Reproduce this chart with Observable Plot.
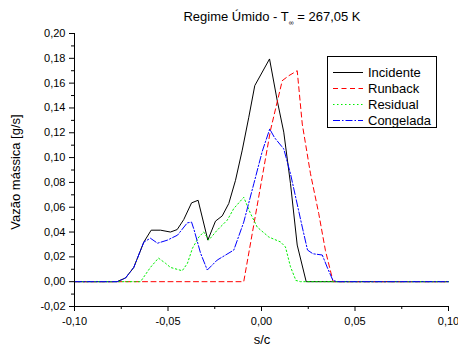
<!DOCTYPE html>
<html>
<head>
<meta charset="utf-8">
<script src="https://cdn.jsdelivr.net/npm/d3@7"></script>
<script src="https://cdn.jsdelivr.net/npm/@observablehq/plot@0.6"></script>
<style>
  html, body { margin: 0; padding: 0; background: #fff; }
  #chart { width: 458px; height: 349px; }
</style>
</head>
<body>
<div id="chart"></div>
<script>
// ---- data ----
const seriesNames = ["Incidente", "Runback", "Residual", "Congelada"];
const seriesColors = ["#000000", "#ff0000", "#00ee00", "#0000ff"];
const seriesDashes = [null, "5,3.5", "1.5,2.5", "7,2,1.5,2"];

const incidenteX = [-0.100, -0.0772, -0.0727, -0.0683, -0.0629, -0.0590, -0.0540, -0.0487, -0.0451, -0.0416, -0.0374, -0.0339, -0.0287, -0.0246, -0.0210, -0.0175, -0.0139, -0.0103, -0.0068, -0.0036, 0.0043, 0.0084, 0.0119, 0.0155, 0.0191, 0.0239, 0.100];
const incidenteY = [0, 0, 0.003, 0.0115, 0.032, 0.0415, 0.0415, 0.040, 0.042, 0.050, 0.0635, 0.0656, 0.0335, 0.0488, 0.053, 0.063, 0.0817, 0.106, 0.1325, 0.158, 0.1795, 0.146, 0.1205, 0.079, 0.0295, 0, 0];

const runbackX = [-0.100, -0.0095, 0.0048, 0.0111, 0.0146, 0.0191, 0.0218, 0.0262, 0.0306, 0.0342, 0.0383, 0.100];
const runbackY = [0, 0, 0.122, 0.162, 0.166, 0.170, 0.127, 0.087, 0.055, 0.025, 0, 0];

const residualX = [-0.100, -0.0647, -0.0594, -0.0551, -0.0513, -0.0487, -0.0424, -0.0396, -0.0369, -0.0335, -0.0309, -0.0282, -0.0237, -0.0183, -0.0148, -0.0095, -0.0059, -0.0023, 0.0039, 0.0102, 0.0128, 0.0155, 0.0184, 0.0209, 0.100];
const residualY = [0, 0, 0.0115, 0.019, 0.0148, 0.0115, 0.0088, 0.0148, 0.027, 0.036, 0.040, 0.0335, 0.0415, 0.0496, 0.059, 0.068, 0.055, 0.044, 0.036, 0.032, 0.028, 0.012, 0.001, 0, 0];

const congeladaX = [-0.100, -0.0772, -0.0727, -0.0683, -0.0629, -0.0594, -0.0556, -0.0503, -0.0449, -0.0397, -0.0374, -0.0361, -0.0326, -0.0290, -0.0237, -0.0148, -0.0095, -0.0041, 0.0004, 0.0044, 0.0070, 0.0119, 0.0155, 0.0218, 0.0246, 0.0275, 0.0325, 0.0353, 0.0382, 0.0405, 0.100];
const congeladaY = [0, 0, 0.003, 0.0115, 0.032, 0.035, 0.031, 0.0335, 0.0375, 0.0474, 0.048, 0.042, 0.023, 0.0094, 0.0174, 0.0255, 0.048, 0.079, 0.105, 0.123, 0.116, 0.107, 0.087, 0.044, 0.0255, 0.0225, 0.0215, 0.011, 0.001, 0, 0];

const xTicks = [-0.10, -0.05, 0.00, 0.05, 0.10];
const xMinorTicks = [-0.075, -0.025, 0.025, 0.075];
const yTicks = [-0.02, 0.00, 0.02, 0.04, 0.06, 0.08, 0.10, 0.12, 0.14, 0.16, 0.18, 0.20];
const yMinorTicks = [-0.01, 0.01, 0.03, 0.05, 0.07, 0.09, 0.11, 0.13, 0.15, 0.17, 0.19];
const xDomain = [-0.10, 0.10];
const yDomain = [-0.02, 0.20];

const titleMain = "Regime Úmido - T";
const titleSub = "∞";
const titleEnd = " = 267,05 K";
const xLabel = "s/c";
const yLabel = "Vazão mássica [g/s]";

// ---- build ----
const seriesData = [
  [incidenteX, incidenteY],
  [runbackX, runbackY],
  [residualX, residualY],
  [congeladaX, congeladaY]
].map(([xs, ys]) => xs.map((x, i) => ({x, y: ys[i]})));

const fmt = d => d3.format(".2f")(d).replace(".", ",").replace("−", "-");
const font = "'Liberation Sans', Arial, sans-serif";

const W = 458, H = 349, ML = 74, MR = 10, MT = 33, MB = 43;

const marks = [];
seriesData.forEach((data, i) => {
  marks.push(Plot.line(data, {
    x: "x", y: "y",
    stroke: seriesColors[i],
    strokeWidth: 1,
    strokeDasharray: seriesDashes[i] || undefined,
    strokeLinejoin: "miter",
    curve: "linear"
  }));
});
marks.push(
  Plot.ruleX([xDomain[0]], {stroke: "#000", strokeWidth: 1}),
  Plot.ruleY([yDomain[0]], {stroke: "#000", strokeWidth: 1}),
  Plot.axisX(xTicks, {tickSize: 5, tickPadding: 6, tickFormat: fmt, label: null, fill: "#000", stroke: "#000", fontSize: 11}),
  Plot.axisX(xMinorTicks, {tickSize: 3, tickFormat: () => "", label: null, stroke: "#000"}),
  Plot.axisY(yTicks, {tickSize: 5, tickPadding: 4, tickFormat: fmt, label: null, fill: "#000", stroke: "#000", fontSize: 11}),
  Plot.axisY(yMinorTicks, {tickSize: 3, tickFormat: () => "", label: null, stroke: "#000"})
);

const svg = Plot.plot({
  width: W, height: H,
  marginLeft: ML, marginRight: MR, marginTop: MT, marginBottom: MB,
  x: {domain: xDomain},
  y: {domain: yDomain},
  style: {fontFamily: font, fontSize: "11px", color: "#000", background: "#fff", overflow: "visible"},
  marks
});

const s = d3.select(svg);

// Title with subscript infinity
const t = s.append("text")
  .attr("x", 272).attr("y", 21)
  .attr("text-anchor", "middle")
  .attr("font-family", font).attr("font-size", 13).attr("fill", "#000");
t.append("tspan").text(titleMain);
t.append("tspan").text(titleSub).attr("font-size", 7).attr("dy", 4);
t.append("tspan").text(titleEnd).attr("dy", -4);

// Axis titles
s.append("text")
  .attr("x", 262).attr("y", 344)
  .attr("text-anchor", "middle")
  .attr("font-family", font).attr("font-size", 13).attr("fill", "#000")
  .text(xLabel);
s.append("text")
  .attr("transform", "translate(20,172) rotate(-90)")
  .attr("text-anchor", "middle")
  .attr("font-family", font).attr("font-size", 13).attr("fill", "#000")
  .text(yLabel);

// Legend
const lg = s.append("g");
lg.append("rect")
  .attr("x", 327.5).attr("y", 56.5).attr("width", 109).attr("height", 71)
  .attr("fill", "#fff").attr("stroke", "#000").attr("stroke-width", 1);
seriesNames.forEach((name, i) => {
  const yy = 72 + i * 16;
  lg.append("line")
    .attr("x1", 333).attr("x2", 363).attr("y1", yy + 0.5).attr("y2", yy + 0.5)
    .attr("stroke", seriesColors[i]).attr("stroke-width", 1)
    .attr("stroke-dasharray", seriesDashes[i]);
  lg.append("text")
    .attr("x", 368).attr("y", yy + 4.5)
    .attr("text-anchor", "start")
    .attr("font-family", font).attr("font-size", 13).attr("fill", "#000")
    .text(name);
});

document.getElementById("chart").appendChild(svg);
</script>
</body>
</html>
